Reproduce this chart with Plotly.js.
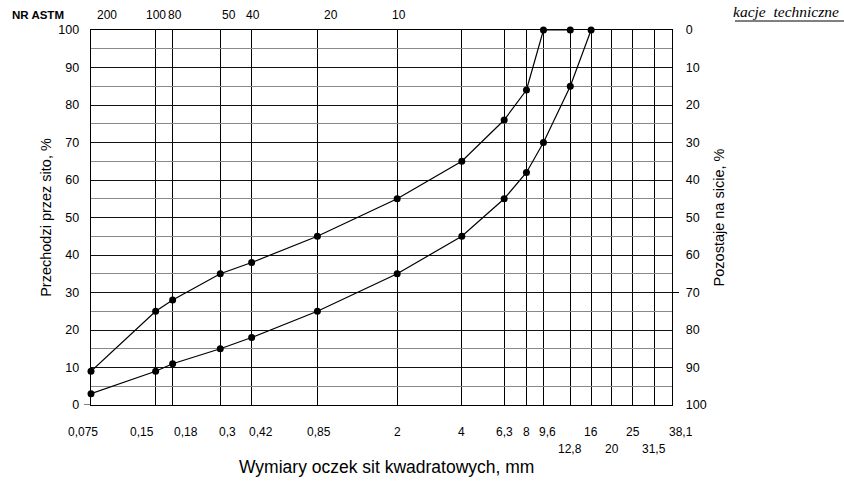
<!DOCTYPE html>
<html><head><meta charset="utf-8">
<script src="https://cdn.plot.ly/plotly-3.0.1.min.js"></script>
<style>body{margin:0;background:#fff}#c{width:844px;height:484px}</style>
</head><body><div id="c"></div>
<script>
// sieve sizes (mm) and labels
const sieves = [0.075,0.15,0.18,0.3,0.42,0.85,2,4,6.3,8,9.6,12.8,16,20,25,31.5,38.1];
const sieveLabels = ["0,075","0,15","0,18","0,3","0,42","0,85","2","4","6,3","8","9,6","12,8","16","20","25","31,5","38,1"];
const labelRow = [1,1,1,1,1,1,1,1,1,1,1,2,1,2,1,2,1];
const labelShift = [-8,-14,13,7,9,2,0,0,0,0,4,0,0,0,0,0,9];
// ASTM sieve numbers
const astmSizes = [0.075,0.15,0.18,0.3,0.42,0.85,2];
const astmLabels = ["200","100","80","50","40","20","10"];
const astmShift = [16,0,2,9,1,14,2];
// y ticks
const majorY = [0,10,20,30,40,50,60,70,80,90,100];
const minorY = [5,15,25,35,45,55,65,75,85,95];
// upper grading limit
const upX = [0.075,0.15,0.18,0.3,0.42,0.85,2,4,6.3,8,9.6,12.8];
const upY = [9,25,28,35,38,45,55,65,76,84,100,100];
// lower grading limit
const loX = [0.075,0.15,0.18,0.3,0.42,0.85,2,4,6.3,8,9.6,12.8,16];
const loY = [3,9,11,15,18,25,35,45,55,62,70,85,100];

const L=91,R=672,T=30,B=405;
const py = p => (B-p)/(B-T);
const px = p => (p-L)/(R-L);
const font = 'Liberation Sans, Arial, sans-serif';

const traces = [
 {x:[1],y:[0],yaxis:'y3',mode:'markers',marker:{opacity:0},showlegend:false,hoverinfo:'skip'},
 {x:[1],y:[0],yaxis:'y2',mode:'markers',marker:{opacity:0},showlegend:false,hoverinfo:'skip'},
 {x:upX,y:upY,mode:'lines+markers',line:{color:'#000',width:1.2},marker:{color:'#000',size:7},showlegend:false,cliponaxis:false},
 {x:loX,y:loY,mode:'lines+markers',line:{color:'#000',width:1.2},marker:{color:'#000',size:7},showlegend:false,cliponaxis:false}
];

const ann = [];
sieves.forEach((s,i)=>{
  ann.push({x:Math.log10(s),xref:'x',xanchor:'center',y:labelRow[i]===1?py(432):py(449),yref:'paper',text:sieveLabels[i],showarrow:false,xshift:labelShift[i],font:{family:font,size:12,color:'#000'},yanchor:'middle'});
});
astmSizes.forEach((s,i)=>{
  ann.push({x:Math.log10(s),xref:'x',xanchor:'center',y:py(15),yref:'paper',text:astmLabels[i],showarrow:false,xshift:astmShift[i],font:{family:font,size:12,color:'#000'},yanchor:'middle'});
});
ann.push({x:px(38),xref:'paper',xanchor:'center',y:py(15),yref:'paper',text:'<b>NR ASTM</b>',showarrow:false,font:{family:font,size:11.5,color:'#000'},yanchor:'middle'});
ann.push({x:px(386),xref:'paper',xanchor:'center',y:py(467),yref:'paper',text:'Wymiary oczek sit kwadratowych, mm',showarrow:false,font:{family:font,size:17.5,color:'#000'},yanchor:'middle'});
ann.push({x:px(841),xref:'paper',xanchor:'right',y:py(12),yref:'paper',text:'<i>kacje  techniczne</i>',showarrow:false,font:{family:'Liberation Serif, Times New Roman, serif',size:15.5,color:'#000'},yanchor:'middle'});

const layout = {
  width:844,height:484,
  margin:{l:L,r:844-R,t:T,b:484-B,pad:0},
  paper_bgcolor:'#fff',plot_bgcolor:'#fff',
  showlegend:false,
  xaxis:{type:'log',range:[Math.log10(0.075),Math.log10(38.1)],tickvals:sieves,ticktext:sieves.map(()=>''),showticklabels:false,
    showgrid:true,gridcolor:'#000',gridwidth:1,zeroline:false,showline:true,linecolor:'#000',linewidth:1.3,mirror:true,ticks:''},
  yaxis:{range:[0,100],tickvals:majorY,ticktext:majorY.map(String),showgrid:true,gridcolor:'#111',gridwidth:1,zeroline:false,showline:true,linecolor:'#000',linewidth:1.3,
    ticks:'',ticklabelstandoff:8,tickfont:{family:font,size:12.5,color:'#000'},
    title:{text:'Przechodzi przez sito, %',font:{family:font,size:14.5,color:'#000'},standoff:3}},
  yaxis3:{range:[0,100],tickvals:minorY,overlaying:'y',showticklabels:false,showgrid:true,gridcolor:'#888',gridwidth:1,zeroline:false,showline:false,ticks:''},
  yaxis2:{range:[100,0],tickvals:majorY,ticktext:majorY.map(String),overlaying:'y',side:'right',showgrid:false,zeroline:false,showline:true,linecolor:'#000',linewidth:1.3,
    ticks:'',ticklabelstandoff:10,tickfont:{family:font,size:12.5,color:'#000'},
    title:{text:'Pozostaje na sicie, %',font:{family:font,size:14.5,color:'#000'},standoff:8}},
  annotations:ann,
  shapes:[
    {type:'line',xref:'paper',yref:'paper',x0:px(735),x1:px(844),y0:py(21),y1:py(21),line:{color:'#000',width:1}},
    {type:'line',xref:'paper',yref:'y',x0:px(84),x1:px(91),y0:0,y1:0,line:{color:'#000',width:1}},
    {type:'line',xref:'paper',yref:'y',x0:px(672),x1:px(679),y0:30,y1:30,line:{color:'#000',width:1}}
  ]
};
Plotly.newPlot('c',traces,layout,{staticPlot:true});
</script></body></html>
